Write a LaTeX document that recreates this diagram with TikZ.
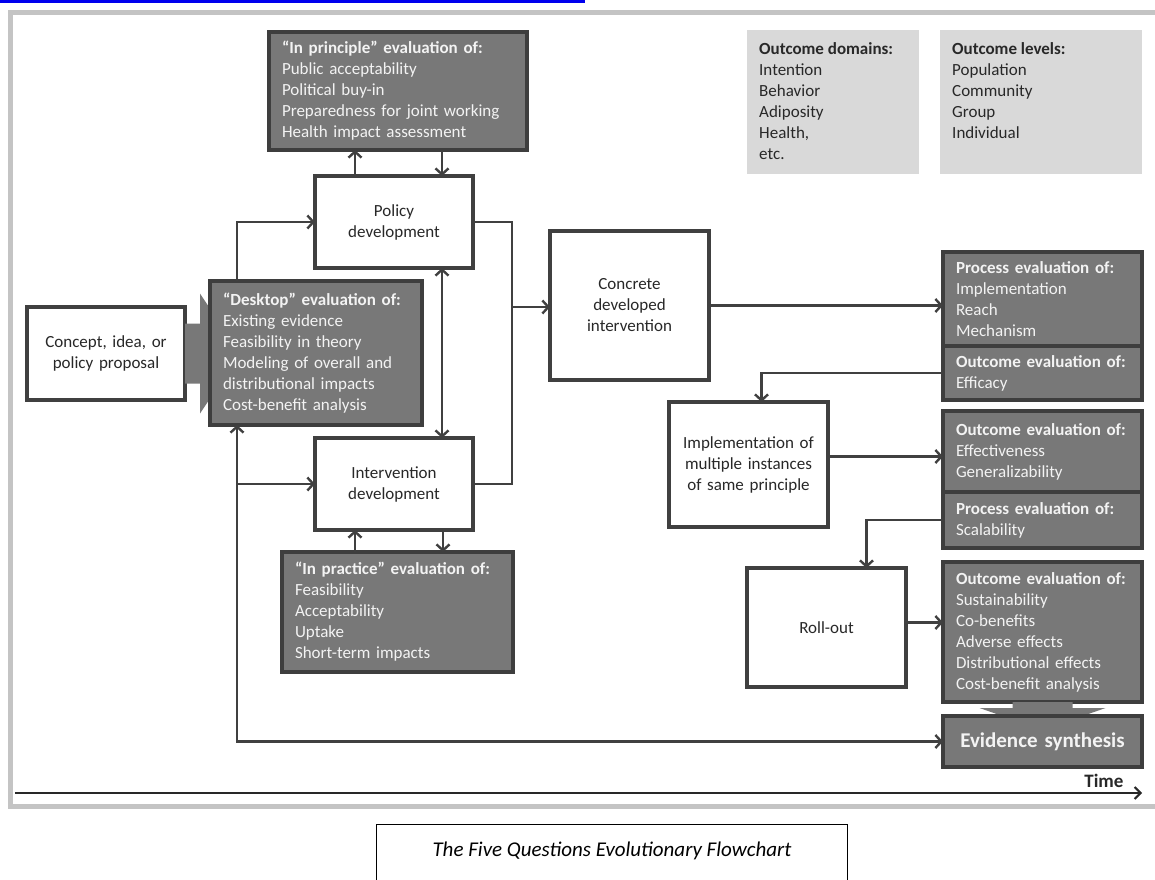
\documentclass[tikz,border=0pt]{standalone}
\usepackage{fontspec}
\setmainfont{Carlito}
\usetikzlibrary{positioning,arrows.meta}

\definecolor{frameclr}{RGB}{196,196,196}
\definecolor{linkblue}{RGB}{0,0,238}
\definecolor{lineclr}{RGB}{64,64,64}
\definecolor{bodyclr}{RGB}{40,40,40}
\definecolor{evalfill}{RGB}{120,120,120}
\definecolor{evaledge}{RGB}{62,62,62}
\definecolor{evaltext}{RGB}{243,243,243}
\definecolor{infofill}{RGB}{217,217,217}

\newcommand{\bodyfont}{\fontsize{17}{21}\selectfont}

\begin{document}
\begin{tikzpicture}[x=1pt,y=-1pt]
\tikzstyle{plain}=[rectangle, draw=lineclr, line width=3.5pt, fill=white, text=bodyclr, align=center, font=\bodyfont, outer sep=0pt, anchor=north west, minimum width=158pt, text width=146pt]
\tikzstyle{evalbox}=[rectangle, draw=evaledge, line width=3.5pt, fill=evalfill, text=evaltext, align=left, font=\bodyfont, outer sep=0pt, anchor=north west, inner xsep=13pt, minimum width=199pt, text width=173pt]
\tikzstyle{infobox}=[rectangle, fill=infofill, text=bodyclr, font=\bodyfont, anchor=north west, inner sep=12pt]
\tikzstyle{link}=[draw=lineclr, line width=2.4pt]
\tikzstyle{connect}=[link, -{Straight Barb[length=6pt,width=13pt]}]
\tikzstyle{biconnect}=[link, {Straight Barb[length=6pt,width=13pt]}-{Straight Barb[length=6pt,width=13pt]}]
\tikzstyle{bigarrow}=[fill=evalfill]
  \useasboundingbox (0,0) rectangle (1155,879);
  \clip (0,0) rectangle (1155,879);
  % page frame and cut link
  \draw[frameclr, line width=5pt] (10,12) rectangle (1170,806);
  \draw[linkblue, line width=3pt] (0,1.5) -- (585,1.5);
  % in principle
  \node[evalbox, minimum width=258pt, text width=232pt, minimum height=118pt] (inprin) at (269,32)
    {\textbf{“In principle” evaluation of:}\\Public acceptability\\Political buy-in\\Preparedness for joint working\\Health impact assessment};
  % policy
  \node[plain, minimum height=92pt] (policy) at (315,176) {Policy\\development};
  % concept
  \node[plain, minimum height=93pt] (concept) at (27,307) {Concept, idea, or\\policy proposal};
  \fill[bigarrow] (concept.east) ++(0,-30) -- ++(15,0) -- ++(0,-30) -- ++(40,60) -- ++(-40,60) -- ++(0,-30) -- ++(-15,0) -- cycle;
  % desktop
  \node[evalbox, minimum width=212pt, text width=186pt, minimum height=144pt] (desktop) at (210,281)
    {\textbf{“Desktop” evaluation of:}\\Existing evidence\\Feasibility in theory\\Modeling of overall and\\distributional impacts\\Cost-benefit analysis};
  % intervention
  \node[plain, minimum height=92pt] (interv) at (315,438) {Intervention\\development};
  % in practice
  \node[evalbox, minimum width=231pt, text width=205pt, minimum height=120pt] (inprac) at (282,552)
    {\textbf{“In practice” evaluation of:}\\Feasibility\\Acceptability\\Uptake\\Short-term impacts};
  % concrete
  \node[plain, minimum width=159pt, minimum height=149pt] (concrete) at (550,231) {Concrete\\developed\\intervention};
  % outcome domains and levels
  \node[infobox] (domains) at (747,30) {\parbox[t][120pt][t]{148pt}{\textbf{Outcome domains:}\\Intention\\Behavior\\Adiposity\\Health,\\etc.}};
  \node[infobox] (levels) at (940,30) {\parbox[t][120pt][t]{178pt}{\textbf{Outcome levels:}\\Population\\Community\\Group\\Individual}};
  % right column
  \node[evalbox, minimum height=94pt] (proc1) at (943,252) {\textbf{Process evaluation of:}\\Implementation\\Reach\\Mechanism};
  \node[evalbox, minimum height=54pt, below=0pt of proc1] (out1) {\textbf{Outcome evaluation of:}\\Efficacy};
  \node[evalbox, minimum height=81pt] (out2) at (943,411) {\textbf{Outcome evaluation of:}\\Effectiveness\\Generalizability};
  \node[evalbox, minimum height=56pt, below=0pt of out2] (proc2) {\textbf{Process evaluation of:}\\Scalability};
  \node[evalbox, minimum height=140pt] (out3) at (943,562)
    {\textbf{Outcome evaluation of:}\\Sustainability\\Co-benefits\\Adverse effects\\Distributional effects\\Cost-benefit analysis};
  \fill[bigarrow] (out3.south) ++(-30,0) -- ++(0,6) -- ++(-33,0) -- ++(63,22) -- ++(63,-22) -- ++(-33,0) -- ++(0,-6) -- cycle;
  % evidence synthesis
  \node[evalbox, minimum height=51pt, align=center, font=\bfseries\fontsize{21}{24}\selectfont] (evid) at (943,716) {Evidence synthesis};
  % implementation and roll-out
  \node[plain, minimum width=159pt, minimum height=125pt] (impl) at (669,402) {Implementation of\\multiple instances\\of same principle};
  \node[plain, minimum width=159pt, minimum height=119pt] (roll) at (747,568) {Roll-out};

  % connectors
  \coordinate (trunk) at (237,742);
  \coordinate (merge) at (512,307);
  \draw[connect] (desktop.north -| trunk) |- (policy.west);
  \draw[biconnect] (desktop.south -| trunk) |- (evid.west);
  \draw[connect] (trunk |- interv.west) -- (interv.west);
  \draw[connect] ([xshift=-39pt]policy.north) -- ([xshift=-39pt]policy.north |- inprin.south);
  \draw[connect] ([xshift=48pt]policy.north |- inprin.south) -- ([xshift=48pt]policy.north);
  \draw[biconnect] ([xshift=48pt]policy.south) -- ([xshift=48pt]interv.north);
  \draw[connect] ([xshift=-39pt]interv.south |- inprac.north) -- ([xshift=-39pt]interv.south);
  \draw[connect] ([xshift=49pt]interv.south) -- ([xshift=49pt]interv.south |- inprac.north);
  \draw[link] (policy.east) -| (merge) |- (interv.east);
  \draw[connect] (merge) -- (merge -| concrete.west);
  \draw[connect] (concrete.east) -- (concrete.east -| proc1.west);
  \draw[connect] (out1.west) -| ([xshift=13pt]impl.north);
  \draw[connect] ([yshift=8pt]impl.east) -- ([yshift=8pt]impl.east -| out2.west);
  \draw[connect] (proc2.west) -| ([xshift=40pt]roll.north);
  \draw[connect] ([yshift=5pt]roll.east) -- ([yshift=5pt]roll.east -| out3.west);

  % time axis
  \coordinate (tstart) at (15,793);
  \coordinate (tend) at (1142,793);
  \draw[link, draw=bodyclr, line width=2pt, -{Straight Barb[length=6pt,width=12pt]}] (tstart) -- (tend);
  \node[anchor=base east, text=bodyclr, font=\bfseries\fontsize{19}{22}\selectfont] (time) at (1127,787) {Time};

  % caption
  \node[minimum width=470pt, minimum height=52pt, font=\itshape\fontsize{21}{24}\selectfont] (capt) at (612,851) {The Five Questions Evolutionary Flowchart};
  \draw[line width=1.2pt] (capt.north west) rectangle ([yshift=-30pt]capt.south east);
\end{tikzpicture}
\end{document}
